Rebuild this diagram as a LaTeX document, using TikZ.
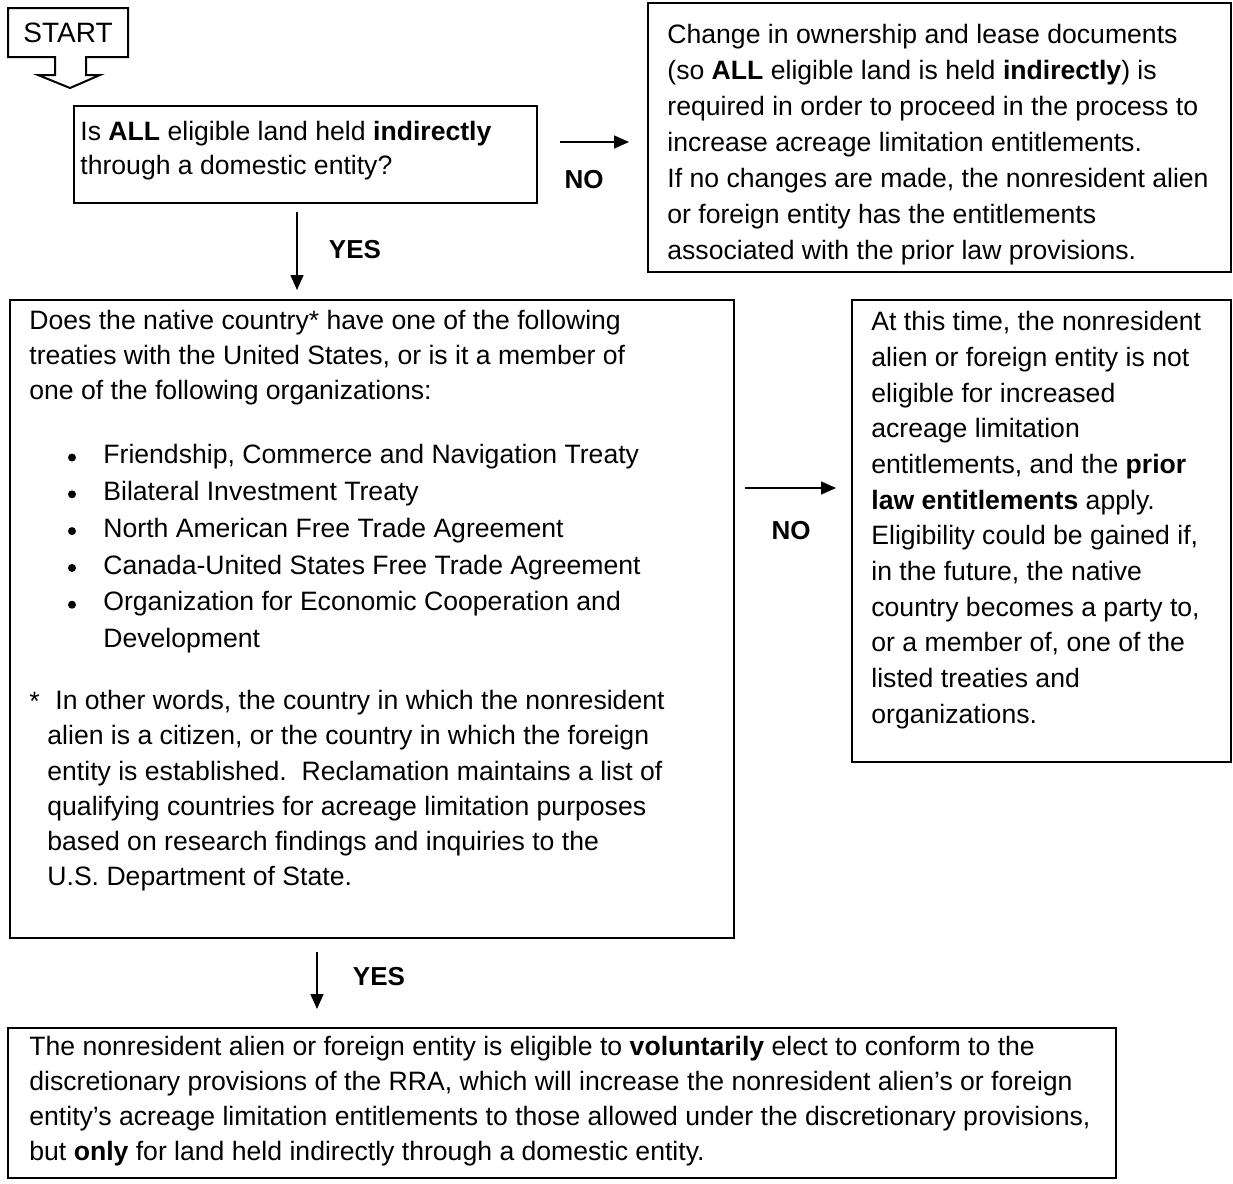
\documentclass[tikz,border=0pt]{standalone}
\usepackage{fontspec}
\setmainfont{Liberation Sans}
\usetikzlibrary{arrows.meta}
\tikzset{
  boxline/.style={draw, line width=1pt},
  txt/.style={inner sep=0pt, anchor=north west, align=left, font=\fontsize{13.3}{18}\selectfont},
  lbl/.style={inner sep=0pt, font=\bfseries\fontsize{13}{14}\selectfont},
  arr/.style={-{Triangle[length=7.5pt,width=6.5pt]}, line width=0.8pt},
}
\begin{document}
\begin{tikzpicture}[x=0.5pt,y=-0.5pt]
\useasboundingbox (0,0) rectangle (1233,1184);
% START
\draw[line width=1pt] (8,8) -- (128,8) -- (128,57) -- (86,57) -- (86,75) -- (100,75) -- (70,88) -- (38,75) -- (55,75) -- (55,57) -- (8,57) -- cycle;
\node[inner sep=0pt, font=\fontsize{14}{16}\selectfont] (start) at (68,33) {START};
% Box 1
\draw[boxline] (74,106) rectangle (537,203);
\node[txt, font=\fontsize{13.3}{17}\selectfont] (q1) at (80,121) {Is \textbf{ALL} eligible land held \textbf{indirectly}\\through a domestic entity?};
% Box 2
\draw[boxline] (648,3) rectangle (1231,272);
\node[txt] (chg) at (667,24) {Change in ownership and lease documents\\(so \textbf{ALL} eligible land is held \textbf{indirectly}) is\\required in order to proceed in the process to\\increase acreage limitation entitlements.\\If no changes are made, the nonresident alien\\or foreign entity has the entitlements\\associated with the prior law provisions.};
% arrow NO 1
\coordinate (n1a) at (560,142);
\coordinate (n1b) at (629,142);
\draw[arr] (n1a) -- (n1b);
\node[lbl] (no1) at (584,180) {NO};
% arrow YES 1
\coordinate (y1a) at (297,212);
\coordinate (y1b) at (297,290);
\draw[arr] (y1a) -- (y1b);
\node[lbl] (yes1) at (355,250) {YES};
% Box 3
\draw[boxline] (10,300) rectangle (734,938);
\node[txt, font=\fontsize{13.3}{17.5}\selectfont] (q2) at (29,310) {Does the native country* have one of the following\\treaties with the United States, or is it a member of\\one of the following organizations:};
\node[txt, font=\fontsize{13.3}{18.4}\selectfont] (lst) at (103,444) {Friendship, Commerce and Navigation Treaty\\Bilateral Investment Treaty\\North American Free Trade Agreement\\Canada-United States Free Trade Agreement\\Organization for Economic Cooperation and\\Development};
\foreach \yy in {457.5,494.3,531.1,567.9,604.7}{\fill (72,\yy) circle (2pt);}
\node[txt] (ast) at (29,692) {*};
\node[txt, font=\fontsize{13.3}{17.6}\selectfont] (foot) at (47,690) {\hspace{4pt}In other words, the country in which the nonresident\\alien is a citizen, or the country in which the foreign\\entity is established.\ \ Reclamation maintains a list of\\qualifying countries for acreage limitation purposes\\based on research findings and inquiries to the\\U.S. Department of State.};
% arrow NO 2
\coordinate (n2a) at (745,488);
\coordinate (n2b) at (836,488);
\draw[arr] (n2a) -- (n2b);
\node[lbl] (no2) at (791,531) {NO};
% Box 4
\draw[boxline] (852,300) rectangle (1231,762);
\node[txt, font=\fontsize{13.3}{17.85}\selectfont] (inel) at (871,311) {At this time, the nonresident\\alien or foreign entity is not\\eligible for increased\\acreage limitation\\entitlements, and the \textbf{prior}\\\textbf{law entitlements} apply.\\Eligibility could be gained if,\\in the future, the native\\country becomes a party to,\\or a member of, one of the\\listed treaties and\\organizations.};
% arrow YES 2
\coordinate (y2a) at (317,952);
\coordinate (y2b) at (317,1009);
\draw[arr] (y2a) -- (y2b);
\node[lbl] (yes2) at (379,977) {YES};
% Box 5
\draw[boxline] (8,1028) rectangle (1116,1178);
\node[txt, font=\fontsize{13.3}{17.5}\selectfont] (elig) at (29,1036) {The nonresident alien or foreign entity is eligible to \textbf{voluntarily} elect to conform to the\\discretionary provisions of the RRA, which will increase the nonresident alien’s or foreign\\entity’s acreage limitation entitlements to those allowed under the discretionary provisions,\\but \textbf{only} for land held indirectly through a domestic entity.};
\end{tikzpicture}
\end{document}
